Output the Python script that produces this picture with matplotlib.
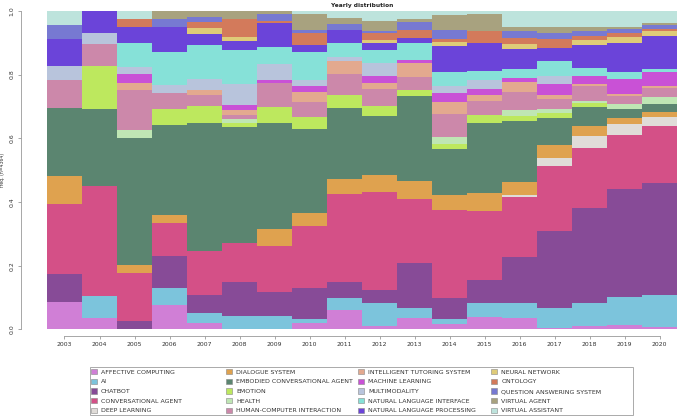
import matplotlib
matplotlib.use("Agg")
import matplotlib.pyplot as plt
from matplotlib.patches import Patch, Rectangle
import numpy as np

years = list(range(2003, 2021))

categories = ["AFFECTIVE COMPUTING", "AI", "CHATBOT", "CONVERSATIONAL AGENT", "DEEP LEARNING",
              "DIALOGUE SYSTEM", "EMBODIED CONVERSATIONAL AGENT", "EMOTION", "HEALTH",
              "HUMAN-COMPUTER INTERACTION", "INTELLIGENT TUTORING SYSTEM", "MACHINE LEARNING",
              "MULTIMODALITY", "NATURAL LANGUAGE INTERFACE", "NATURAL LANGUAGE PROCESSING",
              "NEURAL NETWORK", "ONTOLOGY", "QUESTION ANSWERING SYSTEM", "VIRTUAL AGENT",
              "VIRTUAL ASSISTANT"]

# shares per year (percent), 2003..2020
affective_computing = [8.6, 3.6, 0, 7.7, 1.9, 0, 0, 2.1, 6.1, 1.1, 3.5, 1.7, 3.8, 3.5, 0.5, 1.1, 1.4, 0.8]
ai = [0, 6.8, 0, 5.3, 3.3, 4.2, 4.2, 1.1, 3.9, 7.2, 3.3, 1.5, 4.4, 4.9, 6.1, 7.1, 8.7, 10.0]
chatbot = [8.7, 0, 2.6, 10.2, 5.6, 10.7, 7.5, 10.0, 4.9, 4.0, 14.2, 6.6, 7.3, 14.5, 24.3, 29.9, 34.1, 35.4]
conversational_agent = [22.0, 34.6, 15.0, 10.3, 13.9, 12.2, 14.6, 19.4, 27.7, 31.0, 20.0, 28.0, 21.8, 18.9, 20.5, 18.9, 17.2, 17.9]
deep_learning = [0, 0, 0, 0, 0, 0, 0, 0, 0, 0, 0, 0, 0, 0.5, 2.7, 3.9, 3.2, 2.7]
dialogue_system = [8.7, 0, 2.5, 2.6, 0, 0, 5.3, 4.0, 4.7, 5.3, 5.9, 4.5, 5.5, 4.2, 3.9, 2.9, 2.1, 1.6]
embodied_conversational_agent = [21.5, 24.2, 40.2, 28.3, 40.4, 36.7, 33.4, 26.5, 22.6, 18.6, 26.7, 14.5, 22.0, 19.2, 8.7, 6.1, 2.8, 2.5]
emotion = [0, 13.6, 0, 5.0, 5.3, 1.3, 5.2, 4.0, 4.0, 3.1, 1.9, 1.6, 2.6, 1.5, 1.3, 1.4, 0, 0]
health = [0, 0, 2.4, 0, 0, 1.3, 0, 0, 0, 0, 0, 2.3, 0, 1.9, 1.3, 0.6, 1.6, 2.4]
human_computer_interaction = [8.9, 6.9, 12.6, 5.1, 3.5, 1.4, 7.4, 4.7, 6.8, 5.3, 4.0, 7.4, 4.5, 5.8, 3.1, 4.6, 2.4, 2.8]
intelligent_tutoring_system = [0, 0, 2.3, 0, 1.8, 1.4, 0, 3.1, 3.9, 1.9, 4.4, 3.7, 1.8, 3.1, 1.4, 0.5, 0.8, 0.5]
machine_learning = [0, 0, 2.7, 0, 0, 1.5, 1.0, 1.8, 0, 2.1, 1.0, 2.8, 1.8, 1.3, 3.4, 2.6, 4.7, 4.5]
multimodality = [4.2, 3.6, 2.3, 2.6, 3.5, 6.6, 5.0, 1.9, 1.2, 4.2, 0, 2.1, 2.9, 0, 2.6, 0, 0, 0]
natural_language_interface = [0, 0, 7.6, 10.3, 10.7, 11.0, 5.3, 8.9, 4.7, 4.2, 5.4, 4.5, 2.8, 3.0, 4.8, 2.7, 2.1, 1.1]
natural_language_processing = [8.7, 6.9, 5.0, 7.7, 3.5, 2.6, 7.6, 2.1, 4.1, 2.1, 1.7, 8.1, 8.9, 6.3, 3.9, 7.2, 9.3, 10.2]
neural_network = [0, 0, 0, 0, 1.8, 1.4, 0, 0, 0, 0.8, 0, 1.4, 0, 1.3, 0, 1.6, 1.8, 1.7]
ontology = [0, 0, 2.4, 0, 1.8, 5.5, 0.8, 3.9, 0, 2.3, 2.5, 0.8, 3.7, 2.1, 2.8, 1.1, 1.1, 0.5]
question_answering_system = [4.2, 0, 0, 2.6, 1.7, 0, 2.1, 0.9, 1.9, 0.8, 2.4, 3.1, 0, 2.1, 1.9, 1.5, 1.3, 1.5]
virtual_agent = [0, 0, 0, 2.6, 1.9, 2.7, 1.0, 5.0, 1.9, 3.1, 0.8, 4.5, 5.4, 1.4, 2.1, 1.2, 0.8, 0.6]
virtual_assistant = [4.5, 0, 2.6, 0, 0, 0, 0, 1.0, 2.1, 3.1, 2.7, 1.4, 1.0, 5.0, 5.0, 5.2, 5.0, 3.7]

series = [affective_computing, ai, chatbot, conversational_agent, deep_learning, dialogue_system,
          embodied_conversational_agent, emotion, health, human_computer_interaction,
          intelligent_tutoring_system, machine_learning, multimodality, natural_language_interface,
          natural_language_processing, neural_network, ontology, question_answering_system,
          virtual_agent, virtual_assistant]

colors = ["#d07fd6", "#7cc4dc", "#874b97", "#d45087", "#e0dcd8", "#dfa24f", "#5b8570", "#bde85e",
          "#bfe6b4", "#cc88aa", "#e3a98f", "#c951d6", "#b8c4dc", "#86e1d8", "#6b44d9", "#dfcb78",
          "#d37a5b", "#7779d2", "#a8a27f", "#bde3dc"]

data = np.array(series, dtype=float)
data = data / data.sum(axis=0, keepdims=True)

fig = plt.figure(figsize=(6.85, 4.18), dpi=100)
ax = fig.add_axes([0.0686, 0.212, 0.920, 0.762])

bottom = np.zeros(len(years))
for vals, c in zip(data, colors):
    ax.bar(years, vals, bottom=bottom, width=1.0, color=c, linewidth=0, align="center")
    bottom += vals

ax.set_xlim(2002.5, 2020.5)
ax.set_ylim(0, 1.0)

axis_col = "#999999"
for s in ["top", "right"]:
    ax.spines[s].set_visible(False)
ax.spines["left"].set_position(("outward", 19))
ax.spines["bottom"].set_position(("outward", 4.5))
ax.spines["left"].set_bounds(0, 1)
ax.spines["bottom"].set_bounds(2003, 2020)
for s in ["left", "bottom"]:
    ax.spines[s].set_color(axis_col)
    ax.spines[s].set_linewidth(0.6)

ax.set_xticks(years)
ax.set_xticklabels([str(y) for y in years])
ax.set_yticks([0, 0.2, 0.4, 0.6, 0.8, 1.0])
ax.set_yticklabels(["0.0", "0.2", "0.4", "0.6", "0.8", "1.0"], rotation=90, va="center")
ax.tick_params(axis="both", colors=axis_col, labelcolor="#333333", labelsize=4.4,
               length=2.5, width=0.6, pad=2)

ax.set_ylabel("freq. (n=4364)", fontsize=3.3, color="#333333")
ax.yaxis.set_label_coords(-0.066, 0.5)
ax.set_title("Yearly distribution", fontsize=4.2, fontweight="bold", color="#222222", pad=3)

# legend: four columns
handles = [Patch(facecolor=c, edgecolor="#888888", linewidth=0.4) for c in colors]
col_x = [0.133, 0.330, 0.523, 0.717]
for k in range(4):
    idx = range(k * 5, k * 5 + 5)
    leg = fig.legend([handles[i] for i in idx], [categories[i] for i in idx],
                     loc="upper left", bbox_to_anchor=(col_x[k], 0.117), frameon=False,
                     fontsize=4.5, handlelength=0.9, handleheight=0.9, handletextpad=0.7,
                     labelspacing=0.62, borderpad=0, borderaxespad=0)
    for t in leg.get_texts():
        t.set_color("#333333")
fig.add_artist(Rectangle((90 / 685, 1 - 415 / 418), (633 - 90) / 685, (415 - 367) / 418,
                         transform=fig.transFigure, fill=False, edgecolor="#aaaaaa", linewidth=0.7))

fig.savefig("out.png", dpi=100)
